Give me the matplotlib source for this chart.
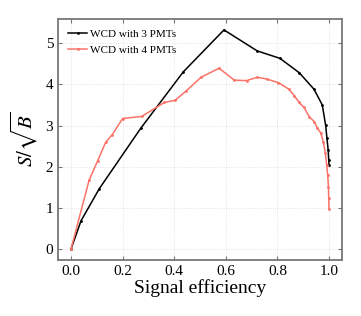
import matplotlib
matplotlib.use('Agg')
import matplotlib.pyplot as plt

# signal efficiency vs S/sqrt(B)
eff_3pmt = [0.0, 0.039, 0.11, 0.27, 0.435, 0.593, 0.722, 0.81, 0.885, 0.942,
            0.974, 0.987, 0.992, 0.997, 0.999, 1.0]
sig_3pmt = [0.0, 0.69, 1.47, 2.93, 4.30, 5.32, 4.81, 4.63, 4.28, 3.88,
            3.50, 3.01, 2.70, 2.40, 2.16, 2.05]

eff_4pmt = [0.0, 0.07, 0.103, 0.134, 0.16, 0.20, 0.274, 0.362, 0.403, 0.445,
            0.504, 0.574, 0.633, 0.681, 0.722, 0.758, 0.804, 0.845, 0.866,
            0.884, 0.903, 0.924, 0.943, 0.955, 0.969, 0.978, 0.986, 0.991,
            0.995, 0.998, 0.999, 1.0]
sig_4pmt = [0.0, 1.67, 2.14, 2.59, 2.78, 3.17, 3.22, 3.56, 3.61, 3.83,
            4.17, 4.39, 4.10, 4.09, 4.17, 4.13, 4.04, 3.88, 3.72,
            3.56, 3.44, 3.21, 3.09, 2.94, 2.81, 2.60, 2.33, 2.05,
            1.80, 1.50, 1.25, 0.98]

plt.rcParams['font.family'] = ['Liberation Serif', 'DejaVu Serif']
plt.rcParams['mathtext.fontset'] = 'stix'

fig, ax = plt.subplots(figsize=(3.61, 3.16), dpi=100)
fig.subplots_adjust(left=0.161, right=0.947, top=0.94, bottom=0.177)

ax.plot(eff_3pmt, sig_3pmt, color='black', lw=1.1, marker='.', ms=2,
        label='WCD with 3 PMTs')
ax.plot(eff_4pmt, sig_4pmt, color='#fa7268', lw=1.1, marker='.', ms=2,
        label='WCD with 4 PMTs')

ax.set_xlabel('Signal efficiency', fontsize=14, labelpad=1)
ax.set_ylabel(r'$S/\sqrt{B}$', fontsize=15, labelpad=4)
ax.set_xticks([0.0, 0.2, 0.4, 0.6, 0.8, 1.0])
ax.set_yticks([0, 1, 2, 3, 4, 5])
ax.tick_params(direction='in', top=True, right=True, labelsize=11,
               color='#777777', length=3)
for s in ax.spines.values():
    s.set_color('#777777')
    s.set_linewidth(1.3)
ax.grid(True, color='#dddddd', linestyle=':', linewidth=0.6)

ax.legend(loc='upper left', frameon=False, fontsize=8, handlelength=1.7,
          handletextpad=0.3, borderaxespad=0.5, labelspacing=0.55)

fig.savefig('out.png', dpi=100)
